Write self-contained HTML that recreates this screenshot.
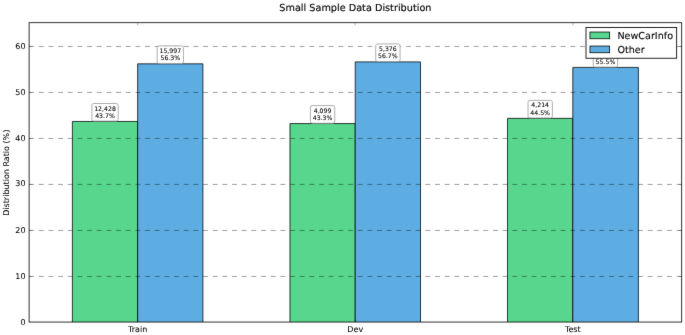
<!DOCTYPE html>
<html><head><meta charset="utf-8"><title>Small Sample Data Distribution</title>
<style>html,body{margin:0;padding:0;background:#fff}svg{display:block}</style></head>
<body>
<svg width="685" height="335" viewBox="0 0 685 335" font-family="'DejaVu Sans', 'Liberation Sans', sans-serif" fill="#000" text-rendering="geometricPrecision">
<defs><filter id="soft" x="0" y="0" width="100%" height="100%" filterUnits="objectBoundingBox" color-interpolation-filters="sRGB"><feConvolveMatrix order="3" kernelMatrix="0.0049 0.0602 0.0049 0.0602 0.7396 0.0602 0.0049 0.0602 0.0049" divisor="1" edgeMode="duplicate" preserveAlpha="true"/></filter></defs>
<g filter="url(#soft)">
<rect x="0" y="0" width="685" height="335" fill="#fff"/>
<g stroke="#000" stroke-width="0.75">
<path d="M72.38 322.05V121.46H137.65V322.05" fill="#58D68D"/>
<path d="M137.65 322.05V63.84H202.92V322.05" fill="#5DADE2"/>
<path d="M289.96 322.05V123.57H355.23V322.05" fill="#58D68D"/>
<path d="M355.23 322.05V61.88H420.50V322.05" fill="#5DADE2"/>
<path d="M507.54 322.05V118.33H572.81V322.05" fill="#58D68D"/>
<path d="M572.81 322.05V67.42H638.38V322.05" fill="#5DADE2"/>
</g>
<g stroke="#000" stroke-opacity="0.55" stroke-width="0.7" stroke-dasharray="4.9 4.765" fill="none">
<path d="M29.1 276.45H681.7"/>
<path d="M29.1 230.45H681.7"/>
<path d="M29.1 184.45H681.7"/>
<path d="M29.1 138.45H681.7"/>
<path d="M29.1 92.45H681.7"/>
<path d="M29.1 46.45H681.7"/>
</g>
<g stroke="#000" stroke-width="0.5" stroke-opacity="0.55" fill="none">
<path d="M29.1 276.45h2.7M681.7 276.45h-2.7"/>
<path d="M29.1 230.45h2.7M681.7 230.45h-2.7"/>
<path d="M29.1 184.45h2.7M681.7 184.45h-2.7"/>
<path d="M29.1 138.45h2.7M681.7 138.45h-2.7"/>
<path d="M29.1 92.45h2.7M681.7 92.45h-2.7"/>
<path d="M29.1 46.45h2.7M681.7 46.45h-2.7"/>
<path d="M137.65 322.05v-2.7M137.65 22.7v2.7"/>
<path d="M355.23 322.05v-2.7M355.23 22.7v2.7"/>
<path d="M572.81 322.05v-2.7M572.81 22.7v2.7"/>
</g>
<g font-size="6.2" text-anchor="middle" stroke="#000" stroke-width="0.09">
<rect x="91.87" y="103.51" width="26.29" height="17.6" rx="1.8" fill="#fff" fill-opacity="0.85" stroke="#999" stroke-width="0.8"/>
<text x="105.01" y="110.61">12,428</text>
<text x="105.01" y="117.86">43.7%</text>
<rect x="157.14" y="45.89" width="26.29" height="17.6" rx="1.8" fill="#fff" fill-opacity="0.85" stroke="#999" stroke-width="0.8"/>
<text x="170.29" y="52.99">15,997</text>
<text x="170.29" y="60.24">56.3%</text>
<rect x="310.42" y="105.62" width="24.36" height="17.6" rx="1.8" fill="#fff" fill-opacity="0.85" stroke="#999" stroke-width="0.8"/>
<text x="322.59" y="112.72">4,099</text>
<text x="322.59" y="119.97">43.3%</text>
<rect x="375.69" y="43.93" width="24.36" height="17.6" rx="1.8" fill="#fff" fill-opacity="0.85" stroke="#999" stroke-width="0.8"/>
<text x="387.87" y="51.03">5,376</text>
<text x="387.87" y="58.28">56.7%</text>
<rect x="528.00" y="100.38" width="24.36" height="17.6" rx="1.8" fill="#fff" fill-opacity="0.85" stroke="#999" stroke-width="0.8"/>
<text x="540.17" y="107.48">4,214</text>
<text x="540.17" y="114.73">44.5%</text>
<rect x="593.27" y="49.47" width="24.36" height="17.6" rx="1.8" fill="#fff" fill-opacity="0.85" stroke="#999" stroke-width="0.8"/>
<text x="605.45" y="56.57">5,256</text>
<text x="605.45" y="63.82">55.5%</text>
</g>
<rect x="29.1" y="22.7" width="652.60" height="299.35" fill="none" stroke="#000" stroke-width="0.8"/>
<g font-size="8" stroke="#000" stroke-width="0.05">
<text x="25.50" y="324.53" text-anchor="end">0</text>
<text x="25.50" y="278.91" text-anchor="end">10</text>
<text x="25.50" y="232.99" text-anchor="end">20</text>
<text x="25.50" y="186.37" text-anchor="end">30</text>
<text x="25.50" y="140.70" text-anchor="end">40</text>
<text x="25.50" y="94.83" text-anchor="end">50</text>
<text x="25.50" y="48.96" text-anchor="end">60</text>
<text x="137.65" y="331.6" text-anchor="middle">Train</text>
<text x="355.23" y="331.6" text-anchor="middle">Dev</text>
<text x="572.81" y="331.6" text-anchor="middle">Test</text>
<text transform="translate(9.25 172.75) rotate(-90)" text-anchor="middle">Distribution Ratio (%)</text>
</g>
<text x="355.40" y="10.8" font-size="9.7" text-anchor="middle" stroke="#000" stroke-width="0.12">Small Sample Data Distribution</text>
<rect x="586.0" y="27.45" width="90.65" height="30.8" fill="#fff" stroke="#000" stroke-width="0.85"/>
<rect x="589.95" y="32.05" width="19.7" height="6.7" fill="#58D68D" stroke="#000" stroke-width="0.75"/>
<rect x="589.95" y="46.05" width="19.7" height="6.7" fill="#5DADE2" stroke="#000" stroke-width="0.75"/>
<g font-size="9.6" stroke="#000" stroke-width="0.09"><text x="617.4" y="38.9">NewCarInfo</text><text x="617.4" y="52.8">Other</text></g>
</g>
</svg>
</body></html>
